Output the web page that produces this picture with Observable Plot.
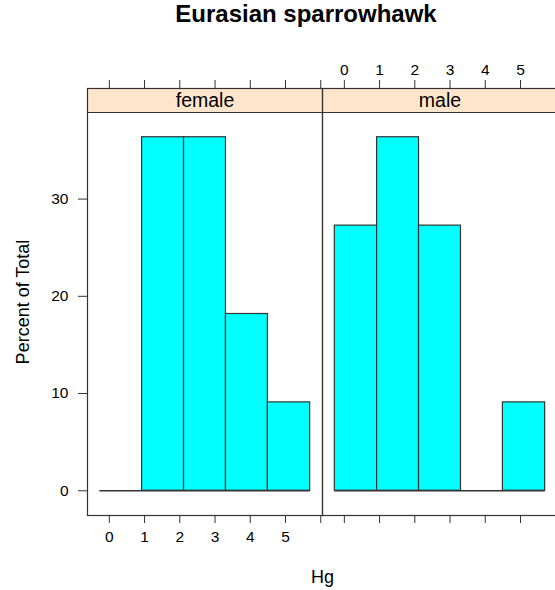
<!DOCTYPE html>
<html>
<head>
<meta charset="utf-8">
<script src="https://cdn.jsdelivr.net/npm/d3@7"></script>
<script src="https://cdn.jsdelivr.net/npm/@observablehq/plot@0.6"></script>
<style>
  html, body { margin: 0; padding: 0; background: #fff; overflow: hidden; width: 555px; height: 590px; }
  #title { width: 612px; height: 40px; line-height: 40px; text-align: center;
           font: bold 24px "Liberation Sans", Arial, sans-serif; color: #000; }
  #chart svg { display: block; max-width: none; }
</style>
</head>
<body>
<div id="title">Eurasian sparrowhawk</div>
<div id="chart"></div>
<script>
// ---- data ----
const panels = ["female", "male"];
const breaks = [-0.27, 0.93, 2.12, 3.31, 4.50, 5.70];
const femalePct = [0, 36.36, 36.36, 18.18, 9.09];
const malePct = [27.27, 36.36, 27.27, 0, 9.09];
const yTicks = [0, 10, 20, 30];
const xTicks = [0, 1, 2, 3, 4, 5, 6];
const xTickLabels = [0, 1, 2, 3, 4, 5];
const xLabel = "Hg";
const yLabel = "Percent of Total";

// ---- table built from arrays ----
const bars = [];
[femalePct, malePct].forEach((vals, p) => {
  vals.forEach((v, i) => bars.push({sex: panels[p], x1: breaks[i], x2: breaks[i + 1], pct: v}));
});

// ---- layout ----
const W = 557, H = 550;
const mL = 86, mR = 0, mT = 48, mB = 75;
const stripPx = 24;
const panelPx = H - mT - mB - stripPx;
const ymax = d3.max(bars, d => d.pct);
const yLo = -0.07 * ymax, yHi = 1.07 * ymax;
const stripUnits = stripPx * (yHi - yLo) / panelPx;
const yTop = yHi + stripUnits;
const font = "Liberation Sans, Arial, sans-serif";
const ink = "#333";

const chart = Plot.plot({
  width: W, height: H,
  marginLeft: mL, marginRight: mR, marginTop: mT, marginBottom: mB,
  style: {fontFamily: font, fontSize: "15.5px", color: "#000", background: "#fff", maxWidth: "none"},
  fx: {domain: panels, padding: 0, axis: null},
  x: {domain: [-0.62, 6.05]},
  y: {domain: [yLo, yTop]},
  marks: [
    Plot.rect(panels, {fx: d => d, y1: yHi, y2: yTop, fill: "#ffe5cc"}),
    Plot.text(panels, {fx: d => d, text: d => d, y: (yHi + yTop) / 2, fontSize: 19.5, fill: "#000"}),
    Plot.ruleY([yHi], {stroke: ink, strokeWidth: 1}),
    Plot.rect(bars.filter(d => d.pct > 0), {fx: "sex", x1: "x1", x2: "x2", y1: 0, y2: "pct",
      fill: "#00ffff", stroke: ink, strokeWidth: 1.2}),
    Plot.ruleY([0], {x1: breaks[0], x2: breaks[breaks.length - 1], stroke: ink, strokeWidth: 1.4}),
    Plot.frame({stroke: ink, strokeWidth: 1.2}),
    Plot.axisY({ticks: yTicks, tickSize: 9, tickPadding: 10, fontSize: 15.5, stroke: ink,
      label: yLabel, labelAnchor: "center", labelArrow: "none", labelOffset: 71}),
    Plot.axisX({anchor: "bottom", ticks: xTicks, tickSize: 8, tickFormat: () => "", label: null, stroke: ink}),
    Plot.axisX({anchor: "top", ticks: xTicks, tickSize: 9, tickFormat: () => "", label: null, stroke: ink}),
    Plot.text(xTickLabels, {fx: () => "female", x: d => d, text: d => String(d), frameAnchor: "bottom", dy: 26, fontSize: 15.5}),
    Plot.text(xTickLabels, {fx: () => "male", x: d => d, text: d => String(d), frameAnchor: "top", dy: -25, fontSize: 15.5}),
    Plot.text([xLabel], {facet: "super", frameAnchor: "bottom", dy: 67, fontSize: 18})
  ]
});
chart.style.maxWidth = "none";
chart.querySelectorAll("[aria-label='y-axis label'] text, [aria-label='y-axis label']").forEach(n => n.setAttribute("font-size", "18"));
document.getElementById("chart").appendChild(chart);
</script>
</body>
</html>
